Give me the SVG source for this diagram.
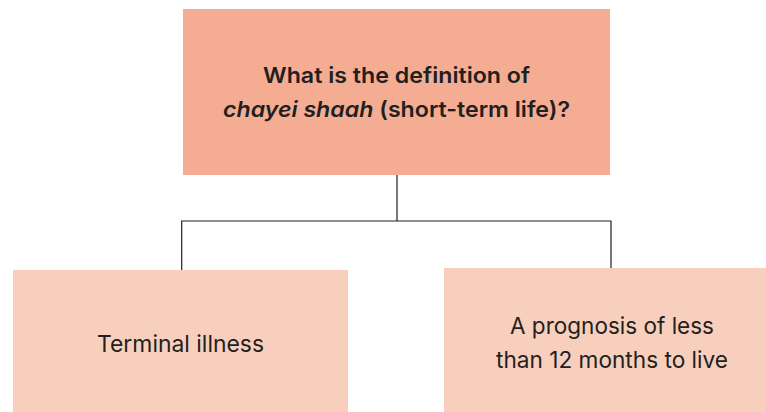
<svg xmlns="http://www.w3.org/2000/svg" width="766" height="412" viewBox="0 0 766 412">
<style>
.top{fill:#F4AD93}
.sub{fill:#F8CFBD}
text{font-family:Inter,"Liberation Sans",sans-serif;fill:#231F20;text-anchor:middle}
.q{font-size:22px;font-weight:600}
.a{font-size:23px;font-weight:400}
.c{fill:none;stroke:#231F20;stroke-width:1.2}
</style>
<rect width="766" height="412" fill="#fff"/>
<g id="connectors">
<path class="c" d="M397 175V221M181.7 270V221H611V268"/>
</g>
<g id="node-question">
<rect class="top" x="183" y="9" width="427" height="166"/>
<text class="q" x="396.5" y="83" textLength="267" lengthAdjust="spacingAndGlyphs">What is the definition of</text>
<text class="q" x="396.5" y="117" textLength="347" lengthAdjust="spacingAndGlyphs"><tspan font-style="italic">chayei shaah</tspan> (short-term life)?</text>
</g>
<g id="node-terminal">
<rect class="sub" x="13" y="270" width="335" height="142"/>
<text class="a" x="180.5" y="352" textLength="167" lengthAdjust="spacingAndGlyphs">Terminal illness</text>
</g>
<g id="node-prognosis">
<rect class="sub" x="444" y="268" width="322" height="144"/>
<text class="a" x="612" y="334" textLength="204" lengthAdjust="spacingAndGlyphs">A prognosis of less</text>
<text class="a" x="612" y="368" textLength="232" lengthAdjust="spacingAndGlyphs">than 12 months to live</text>
</g>
</svg>
